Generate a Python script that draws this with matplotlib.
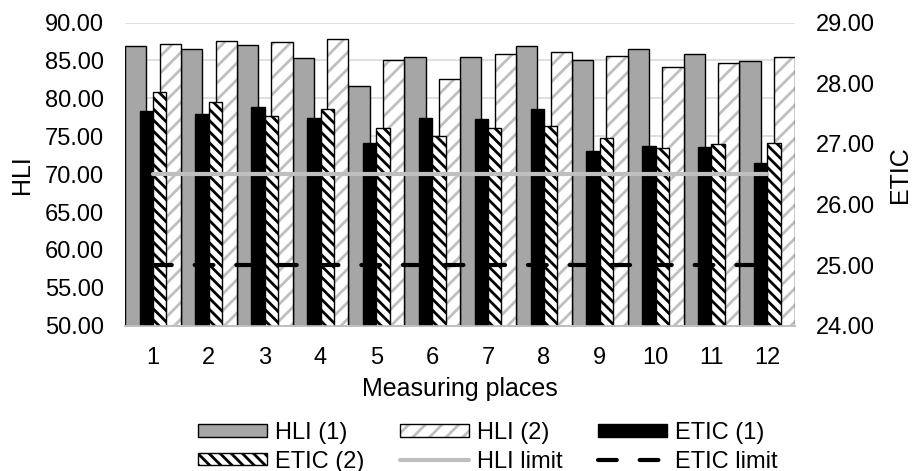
import matplotlib.pyplot as plt
from matplotlib.legend_handler import HandlerTuple
import numpy as np

plt.rcParams['font.family'] = ['Liberation Sans', 'DejaVu Sans']
plt.rcParams['hatch.linewidth'] = 2.0

# data
places = ['1', '2', '3', '4', '5', '6', '7', '8', '9', '10', '11', '12']
hli_1 = [86.9, 86.5, 87.1, 85.3, 81.6, 85.5, 85.5, 86.9, 85.0, 86.5, 85.8, 84.9]
hli_2 = [87.2, 87.6, 87.5, 87.8, 85.1, 82.6, 85.8, 86.1, 85.6, 84.2, 84.7, 85.5]
etic_1 = [27.54, 27.50, 27.61, 27.43, 27.01, 27.42, 27.41, 27.58, 26.89, 26.96, 26.95, 26.68]
etic_2 = [27.86, 27.69, 27.46, 27.58, 27.26, 27.13, 27.26, 27.29, 27.10, 26.93, 26.99, 27.02]
hli_limit = [70.0] * 12
etic_limit = [25.0] * 12

x = np.arange(1, 13)

fig = plt.figure(figsize=(9.13, 4.71), dpi=100)
ax = fig.add_axes([0.137, 0.3085, 0.734, 0.6435])
ax2 = ax.twinx()

# HLI bars (left axis)
b1 = ax.bar(x - 0.31, hli_1, width=0.38, color='#a6a6a6', edgecolor='black', linewidth=1.0)
b2h = ax.bar(x + 0.31, hli_2, width=0.38, color='white', edgecolor='#bfbfbf', linewidth=0, hatch='//')
b2e = ax.bar(x + 0.31, hli_2, width=0.38, fill=False, edgecolor='black', linewidth=1.0)

# ETIC bars (right axis)
b3 = ax2.bar(x - 0.12, etic_1, width=0.24, color='black', edgecolor='black', linewidth=1.0)
b4 = ax2.bar(x + 0.12, etic_2, width=0.24, color='white', edgecolor='black', linewidth=1.0, hatch='\\\\\\')

# limit lines on top of all bars
l1, = ax2.plot(x, hli_limit, color='#bfbfbf', linewidth=3, solid_capstyle='round',
               transform=ax.transData)
l2, = ax2.plot(x, etic_limit, color='black', linewidth=3, linestyle=(0, (4.5, 5.5)),
               dash_capstyle='round')

ax.set_xlim(0.5, 12.5)
ax.set_ylim(50, 90)
ax2.set_ylim(24, 29)
ax.set_yticks(np.arange(50, 91, 5))
ax2.set_yticks(np.arange(24, 30, 1))
ax.set_yticklabels([f'{v:.2f}' for v in np.arange(50, 91, 5)])
ax2.set_yticklabels([f'{v:.2f}' for v in np.arange(24, 30, 1)])
ax.set_xticks(x)
ax.set_xticklabels(places)

ax.grid(axis='y', color='#d9d9d9', linewidth=1.2)
ax.set_axisbelow(True)
for a in (ax, ax2):
    for s in ['top', 'left', 'right']:
        a.spines[s].set_visible(False)
    a.spines['bottom'].set_color('#bfbfbf')
    a.spines['bottom'].set_linewidth(1.2)
    a.tick_params(length=0, labelsize=17, colors='black')
ax.tick_params(axis='y', pad=15)
ax.tick_params(axis='x', pad=15)
ax2.tick_params(axis='y', pad=15)

ax.set_ylabel('HLI', fontsize=18, labelpad=8)
ax2.set_ylabel('ETIC', fontsize=18, labelpad=9)
ax.set_xlabel('Measuring places', fontsize=18, labelpad=6)

handles = [b1, b4, (b2h, b2e), l1, b3, l2]
labels = ['HLI (1)', 'ETIC (2)', 'HLI (2)', 'HLI limit', 'ETIC (1)', 'ETIC limit']
fig.legend(handles, labels, ncol=3, loc='upper left', bbox_to_anchor=(198 / 913, 1 - 422 / 471),
           frameon=False, fontsize=17, handlelength=2.92, handleheight=0.42, handletextpad=0.34,
           columnspacing=1.5, labelspacing=0.28, borderpad=0, borderaxespad=0,
           handler_map={tuple: HandlerTuple(ndivide=1)})

plt.savefig('out.png', dpi=100)
